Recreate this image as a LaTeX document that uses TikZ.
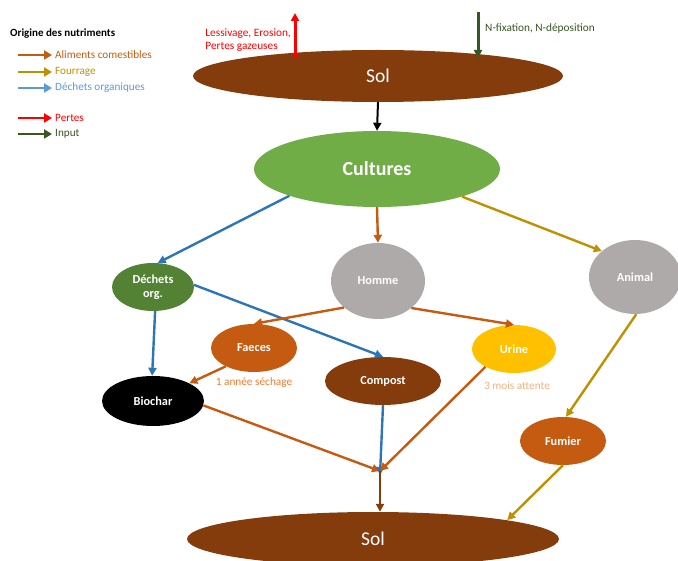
\documentclass[tikz,border=0pt]{standalone}
\usepackage{fontspec}
\setmainfont{Carlito}
\usetikzlibrary{arrows.meta,shapes.geometric}
\definecolor{soil}{HTML}{843C0C}
\definecolor{cultg}{HTML}{70AD47}
\definecolor{dechg}{HTML}{548235}
\definecolor{grayn}{HTML}{AEAAAA}
\definecolor{orng}{HTML}{C55A11}
\definecolor{gold}{HTML}{FFC000}
\definecolor{fourr}{HTML}{BF9000}
\definecolor{bleu}{HTML}{2E75B6}
\definecolor{bleul}{HTML}{5B9BD5}
\definecolor{dgreen}{HTML}{385723}
\definecolor{lorng}{HTML}{ED7D31}
\definecolor{porng}{HTML}{F4B183}
\tikzset{
  blob/.style={ellipse, draw=none, inner sep=0pt, text=white, font=\bfseries\fontsize{12.3}{14}\selectfont, align=center},
  conn/.style={line width=2.4pt, -{Triangle[length=8pt,width=8pt]}},
  leg/.style={line width=2.8pt, -{Triangle[length=8pt,width=9pt]}},
  legtxt/.style={anchor=west, inner sep=0pt, font=\fontsize{11.2}{13}\selectfont},
  smalltxt/.style={inner sep=0pt, font=\fontsize{11.3}{13}\selectfont},
}
\begin{document}
\begin{tikzpicture}[x=1pt,y=-1pt]
\useasboundingbox (0,0) rectangle (678,561);
% legend
\node[legtxt, font=\bfseries\fontsize{11}{13}\selectfont] (legt) at (10,34) {Origine des nutriments};
\draw[leg, orng] (18,55) -- (52,55);
\node[legtxt, text=orng] (l1) at (55,55) {Aliments comestibles};
\draw[leg, fourr] (18,72) -- (52,72);
\node[legtxt, text=fourr] (l2) at (55,72) {Fourrage};
\draw[leg, bleul] (18,88) -- (52,88);
\node[legtxt, text=bleul] (l3) at (55,88) {Déchets organiques};
\draw[leg, red] (18,118) -- (52,118);
\node[legtxt, text=red] (l4) at (55,118) {Pertes};
\draw[leg, dgreen] (18,134) -- (52,134);
\node[legtxt, text=dgreen] (l5) at (55,134) {Input};

% nodes
\node[blob, fill=soil, minimum width=370pt, minimum height=52pt, font=\fontsize{19.5}{22}\selectfont] (sol1) at (378,76) {Sol};
\node[blob, fill=cultg, minimum width=246pt, minimum height=76pt, font=\bfseries\fontsize{20}{24}\selectfont] (cult) at (377,169) {Cultures};
\node[blob, fill=dechg, minimum width=82pt, minimum height=48pt] (dech) at (153,287) {Déchets\\org.};
\node[blob, fill=grayn, minimum width=94pt, minimum height=76pt] (homme) at (378,281) {Homme};
\node[blob, fill=grayn, minimum width=92pt, minimum height=74pt] (animal) at (635,277) {Animal};
\node[blob, fill=orng, minimum width=86pt, minimum height=48pt] (faeces) at (254,348) {Faeces};
\node[blob, fill=soil, minimum width=116pt, minimum height=48pt] (compost) at (383,381) {Compost};
\node[blob, fill=gold, minimum width=84pt, minimum height=48pt] (urine) at (514,349) {Urine};
\node[blob, fill=black, minimum width=102pt, minimum height=50pt] (biochar) at (153,401) {Biochar};
\node[blob, fill=orng, minimum width=86pt, minimum height=48pt] (fumier) at (563,441) {Fumier};
\node[blob, fill=soil, minimum width=372pt, minimum height=54pt, font=\fontsize{19.5}{22}\selectfont] (sol2) at (373,539) {Sol};

% labels
\node[smalltxt, text=lorng] (lab1) at (254,383) {1 année séchage};
\node[smalltxt, text=porng] (lab2) at (517,386) {3 mois attente};
\node[smalltxt, text=red, align=left, anchor=east] (lab3) at (291,40) {Lessivage, Erosion,\\Pertes gazeuses};
\node[smalltxt, text=dgreen, anchor=west] (lab4) at (485,28) {N-fixation, N-déposition};

% top arrows
\coordinate (redtop) at (295,13);
\coordinate (redbot) at (295,58);
\coordinate (grtop) at (478,12);
\coordinate (grbot) at (478,58);
\draw[conn, red, line width=3pt] (redbot) -- (redtop);
\draw[conn, dgreen, line width=3pt] (grtop) -- (grbot);

% connectors
\draw[conn, black, line width=2pt] (sol1.south) -- (cult.north);
\draw[conn, bleu] (cult.197) -- (dech.79);
\draw[conn, orng] (cult.south) -- (homme.north);
\draw[conn, fourr] (cult.342) -- (animal.142);
\draw[conn, bleu] (dech.275) -- (biochar.92);
\draw[conn, bleu] (dech.3) -- (compost.north);
\draw[conn, orng] (homme.218) -- (faeces.north);
\draw[conn, orng] (homme.321) -- (urine.north);
\draw[conn, orng] (faeces.213) -- (biochar.26);
\coordinate (junc) at (380,471);
\draw[conn, orng] (biochar.355) -- (junc);
\draw[conn, bleu] (compost.south) -- ([yshift=-4pt]junc);
\draw[conn, orng] (urine.212) -- (junc);
\draw[conn, soil, line width=2pt] (junc) -- (junc |- sol2.north);
\draw[conn, fourr] (animal.272) -- (fumier.83);
\draw[conn, fourr] (fumier.south) -- (sol2.8.6);
\end{tikzpicture}
\end{document}
